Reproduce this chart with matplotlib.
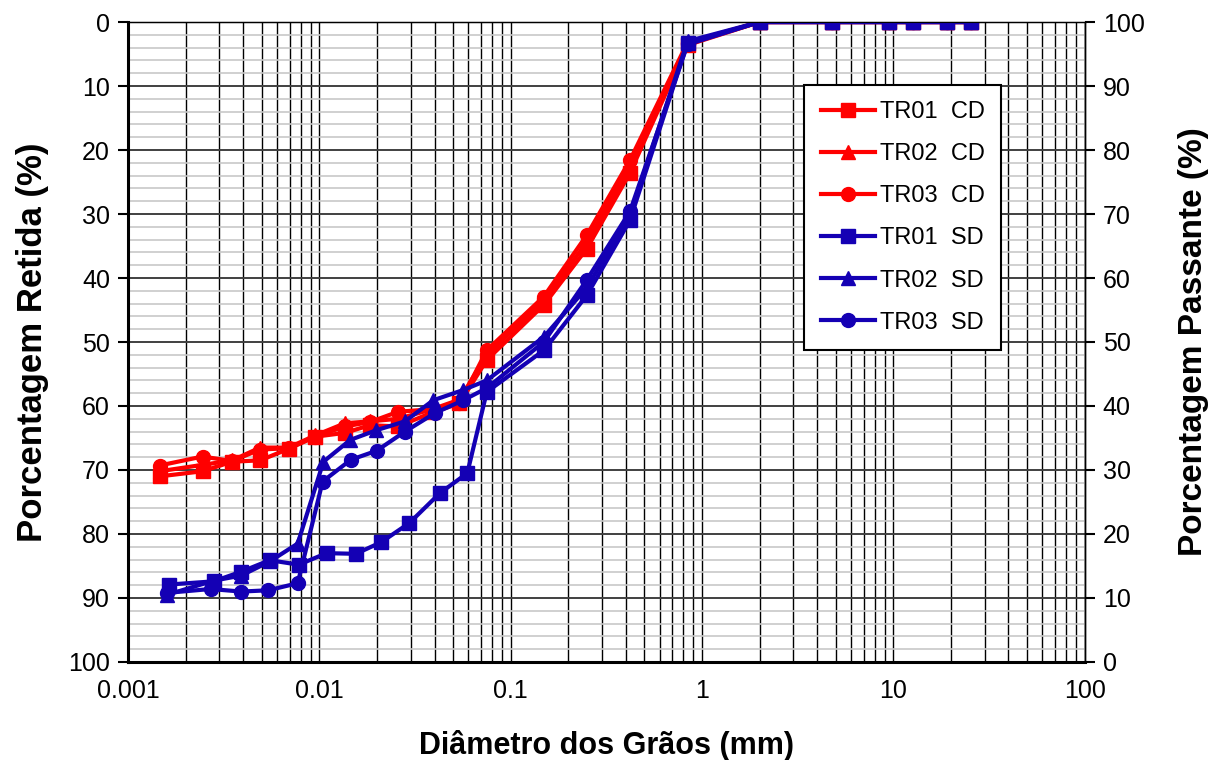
import numpy as np
import matplotlib
matplotlib.use('Agg')
import matplotlib.pyplot as plt
from matplotlib.ticker import LogLocator, NullFormatter, MultipleLocator

plt.rcParams['font.family'] = ['Liberation Sans', 'DejaVu Sans']

# aberturas das peneiras (mm)
peneiras = [25.4, 19.1, 12.7, 9.52, 4.76, 2.0, 0.84, 0.42, 0.25, 0.149, 0.075]

# sedimentacao - diametros (mm)
d_tr01_cd = [0.054, 0.039, 0.0258, 0.0184, 0.0136, 0.0095, 0.0069, 0.0049, 0.0035, 0.00245, 0.00146]
d_tr02_cd = [0.054, 0.039, 0.0258, 0.0184, 0.0136, 0.0095, 0.0069, 0.0049, 0.0035, 0.00245, 0.00146]
d_tr03_cd = [0.054, 0.039, 0.0258, 0.0184, 0.0136, 0.0095, 0.0069, 0.0049, 0.0035, 0.00245, 0.00146]
d_tr01_sd = [0.0593, 0.0427, 0.0295, 0.021, 0.0155, 0.0109, 0.0078, 0.0055, 0.0039, 0.0028, 0.00164]
d_tr02_sd = [0.0565, 0.0394, 0.028, 0.0198, 0.0145, 0.0105, 0.0077, 0.0055, 0.0039, 0.0028, 0.0016]
d_tr03_sd = [0.0565, 0.0402, 0.028, 0.0199, 0.0146, 0.0104, 0.0077, 0.0054, 0.0039, 0.0027, 0.0016]

# porcentagem retida (%)
r_tr01_cd = [0, 0, 0, 0, 0, 0, 3.6, 23.6, 35.4, 44.2, 52.8,
             59.6, 61.0, 63.2, 63.0, 64.2, 64.8, 66.7, 68.5, 68.7, 70.2, 71.0]
r_tr02_cd = [0, 0, 0, 0, 0, 0, 3.4, 22.6, 34.4, 43.5, 52.0,
             59.0, 60.5, 62.0, 62.4, 62.7, 64.6, 66.5, 66.5, 68.5, 69.2, 70.2]
r_tr03_cd = [0, 0, 0, 0, 0, 0, 3.2, 21.6, 33.3, 42.9, 51.3,
             59.6, 60.5, 60.9, 62.5, 63.2, 64.8, 66.6, 66.8, 68.6, 67.9, 69.3]
r_tr01_sd = [0, 0, 0, 0, 0, 0, 3.3, 31.0, 42.7, 51.3, 57.8,
             70.5, 73.6, 78.3, 81.3, 83.1, 83.0, 84.8, 84.1, 85.9, 87.4, 87.9]
r_tr02_sd = [0, 0, 0, 0, 0, 0, 3.0, 30.2, 41.5, 49.2, 56.0,
             57.5, 59.1, 62.4, 63.8, 65.3, 68.7, 81.5, 84.3, 86.5, 87.3, 89.5]
r_tr03_sd = [0, 0, 0, 0, 0, 0, 3.5, 29.6, 40.3, 50.0, 57.2,
             59.1, 61.1, 64.0, 67.0, 68.4, 71.8, 87.7, 88.8, 89.0, 88.6, 89.2]

vermelho = '#FF0000'
azul = '#1400B4'

fig, ax = plt.subplots(figsize=(12.2, 7.6), dpi=100)
fig.subplots_adjust(left=0.105, right=0.889, top=0.971, bottom=0.129)

ax.set_xscale('log')
ax.set_xlim(0.001, 100)
ax.set_ylim(100, 0)

ax.set_xticks([0.001, 0.01, 0.1, 1, 10, 100])
ax.set_xticklabels(['0.001', '0.01', '0.1', '1', '10', '100'])
ax.xaxis.set_minor_locator(LogLocator(base=10, subs=np.arange(2, 10), numticks=100))
ax.xaxis.set_minor_formatter(NullFormatter())
ax.yaxis.set_major_locator(MultipleLocator(10))
ax.yaxis.set_minor_locator(MultipleLocator(2))

ax.grid(which='major', axis='y', color='#404040', lw=1.4)
ax.grid(which='minor', axis='y', color='#c8c8c8', lw=1.2)
ax.grid(which='both', axis='x', color='black', lw=1.0)
ax.set_axisbelow(True)

ax.tick_params(axis='x', which='both', length=0, labelsize=18, pad=12)
ax.tick_params(axis='y', which='major', length=7, width=1.5, labelsize=18, direction='out', pad=6)
ax.tick_params(axis='y', which='minor', length=0)

series = [
    (peneiras + d_tr01_cd, r_tr01_cd, vermelho, 's', 'TR01  CD'),
    (peneiras + d_tr02_cd, r_tr02_cd, vermelho, '^', 'TR02  CD'),
    (peneiras + d_tr03_cd, r_tr03_cd, vermelho, 'o', 'TR03  CD'),
    (peneiras + d_tr01_sd, r_tr01_sd, azul, 's', 'TR01  SD'),
    (peneiras + d_tr02_sd, r_tr02_sd, azul, '^', 'TR02  SD'),
    (peneiras + d_tr03_sd, r_tr03_sd, azul, 'o', 'TR03  SD'),
]
for x, y, cor, mk, nome in series:
    ax.plot(x, y, color=cor, marker=mk, ms=10, lw=3, label=nome, zorder=3)

for s in ['left', 'bottom']:
    ax.spines[s].set_linewidth(2.2)
ax.spines['top'].set_linewidth(1.0)
ax.spines['right'].set_linewidth(1.0)

ax.set_ylabel('Porcentagem Retida (%)', fontsize=25, fontweight='bold', labelpad=14)
ax.set_xlabel('Diâmetro dos Grãos (mm)', fontsize=22, fontweight='bold', labelpad=20)

ax2 = ax.twinx()
ax2.set_ylim(0, 100)
ax2.yaxis.set_major_locator(MultipleLocator(10))
ax2.tick_params(axis='y', length=7, width=1.5, labelsize=18, direction='out', pad=6)
ax2.set_ylabel('Porcentagem Passante (%)', fontsize=24, fontweight='bold', labelpad=24)
ax2.spines['right'].set_linewidth(1.0)

leg = ax.legend(loc='upper left', bbox_to_anchor=(0.707, 0.902), fontsize=17,
                frameon=True, fancybox=False, edgecolor='black', framealpha=1,
                handlelength=2.3, labelspacing=0.85, borderpad=0.7, handletextpad=0.2,
                borderaxespad=0)
leg.get_frame().set_linewidth(1.5)

fig.savefig('out.png', dpi=100)
